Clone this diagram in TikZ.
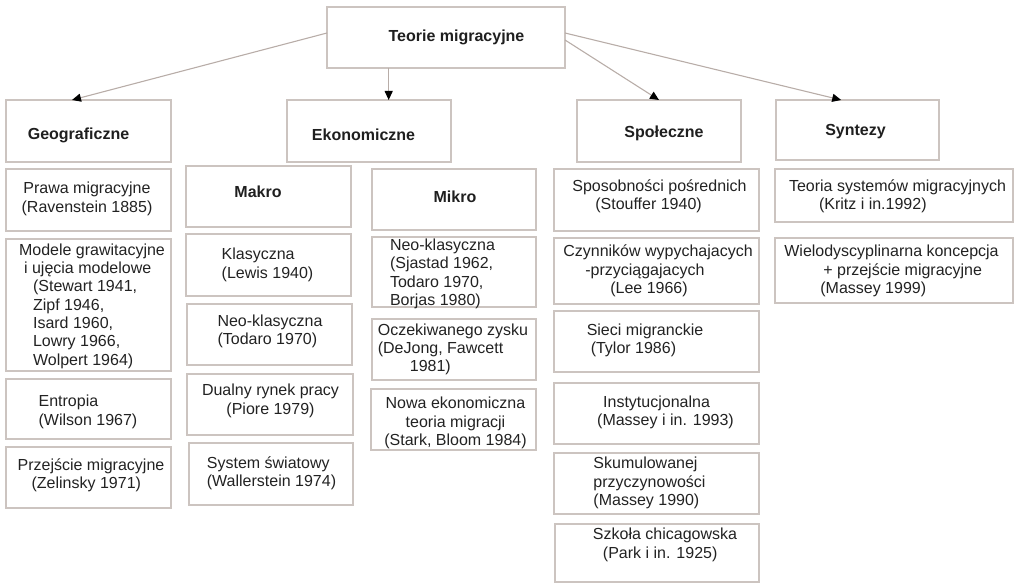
\documentclass[tikz,border=0pt]{standalone}
\usepackage{fontspec}
\setmainfont{Liberation Sans}
\usetikzlibrary{arrows.meta,calc}
\definecolor{boxline}{HTML}{CCC4C0}
\definecolor{linkline}{HTML}{B8ADA8}
\definecolor{inkgray}{HTML}{222222}

\begin{document}
\begin{tikzpicture}[x=1pt,y=-1pt,
  card/.style={draw=boxline, line width=1.3pt, inner sep=0pt, outer sep=0pt},
  txtc/.style={font=\fontsize{16}{18.3}\selectfont, text=inkgray, align=center, inner sep=0pt},
  txtl/.style={txtc, align=left},
  head/.style={txtc, font=\fontsize{16}{18.3}\selectfont\bfseries, text=black!88},
  link/.style={draw=linkline, line width=1.1pt, -{Triangle[length=9pt,width=8pt,color=black]}},
]
\useasboundingbox (0,0) rectangle (1016,585);

% ---------- boxes: name / left / top / right / bottom / text shift x / text shift y / style / text ----------
\foreach \id/\xa/\ya/\xb/\yb/\dx/\dy/\st/\txt in {%
  root/327/7/565/68/10.5/-0.5/head/{Teorie migracyjne},
  geo/6/100/171/162/-10/4/head/{Geograficzne},
  eko/287/100/451/162/-5.5/4/head/{Ekonomiczne},
  spo/577/100/741/162/5/2/head/{Społeczne},
  syn/776/100/939/160/-2/2/head/{Syntezy},
  % geographic column
  prawa/6/169/171/231/-1.5/-1/txtc/{Prawa migracyjne\\(Ravenstein 1885)},
  modele/6/239/171/371/3.5/1/txtl/{Modele grawitacyjne\\\hspace*{5pt}i ujęcia modelowe\\\hspace*{14pt}(Stewart 1941,\\\hspace*{14pt}Zipf 1946,\\\hspace*{14pt}Isard 1960,\\\hspace*{14pt}Lowry 1966,\\\hspace*{14pt}Wolpert 1964)},
  entropia/6/379/171/439/-0.5/3/txtl/{Entropia\\(Wilson 1967)},
  przej/6/447/171/508/2.5/-2.5/txtl/{Przejście migracyjne\\\hspace*{14pt}(Zelinsky 1971)},
  % economic: macro
  makro/186/166/351/227/-10.5/-4.5/head/{Makro},
  klas/186/234/351/296/-1/0/txtl/{Klasyczna\\(Lewis 1940)},
  neok/187/304/352/365/0.5/-3/txtl/{Neo-klasyczna\\(Todaro 1970)},
  dual/187/374/353/435/0.5/-3.5/txtc/{Dualny rynek pracy\\(Piore 1979)},
  swiat/189/443/353/505/0.5/-1/txtl/{System światowy\\(Wallerstein 1974)},
  % economic: micro
  mikro/372/169/536/230/1/-2.5/head/{Mikro},
  neom/372/237/536/307/-11.5/2/txtl/{Neo-klasyczna\\(Sjastad 1962,\\Todaro 1970,\\Borjas 1980)},
  ocz/372/319/536/380/-1/0/txtl/{Oczekiwanego zysku\\(DeJong, Fawcett\\\hspace*{32pt}1981)},
  nowa/371/389/536/450/2/3.5/txtc/{Nowa ekonomiczna\\teoria migracji\\(Stark, Bloom 1984)},
  % social column
  spos/554/169/759/231/3/-4/txtl/{Sposobności pośrednich\\\hspace*{23pt}(Stouffer 1940)},
  czyn/554/238/759/304/1.5/0/txtl/{Czynników wypychajacych\\\hspace*{22pt}-przyciągajacych\\\hspace*{47pt}(Lee 1966)},
  sieci/554/311/759/372/-11.5/-1/txtl/{Sieci migranckie\\\hspace*{4pt}(Tylor 1986)},
  inst/554/383/759/444/9/-1/txtl/{\hspace*{6pt}Instytucjonalna\\(Massey i in. 1993)},
  skum/554/453/759/514/-7/-0.5/txtl/{Skumulowanej\\przyczynowości\\(Massey 1990)},
  szkola/555/524/759/582/8/-8/txtl/{Szkoła chicagowska\\\hspace*{10pt}(Park i in. 1925)},
  % syntheses column
  teoria/775/169/1013/222/3.5/0.5/txtl/{Teoria systemów migracyjnych\\\hspace*{30pt}(Kritz i in.1992)},
  wielo/775/238/1013/303/-2.5/0.5/txtl/{Wielodyscyplinarna koncepcja\\\hspace*{39pt}+ przejście migracyjne\\\hspace*{36pt}(Massey 1999)}%
} {
  \pgfmathsetmacro{\w}{\xb-\xa}
  \pgfmathsetmacro{\h}{\yb-\ya}
  \node[card, minimum width=\w pt, minimum height=\h pt] (\id) at ({(\xa+\xb)/2},{(\ya+\yb)/2}) {};
  \node[\st] (\id-t) at ([shift={(\dx,\dy)}]\id.center) {\txt};
}

% ---------- arrows from the root ----------
\coordinate (geoTip) at ($(geo.north west)!0.4!(geo.north east)$);
\coordinate (ekoTip) at ($(eko.north west)!0.62!(eko.north east)$);
\coordinate (synTip) at ($(syn.north west)!0.4!(syn.north east)$);
\draw[link] ([yshift=4.5pt]root.west) -- (geoTip);
\draw[link] (root.south -| ekoTip) -- (ekoTip);
\draw[link] ([yshift=-2.5pt]root.east) -- (spo.north);
\draw[link] ([yshift=4.5pt]root.east) -- (synTip);
\end{tikzpicture}
\end{document}
